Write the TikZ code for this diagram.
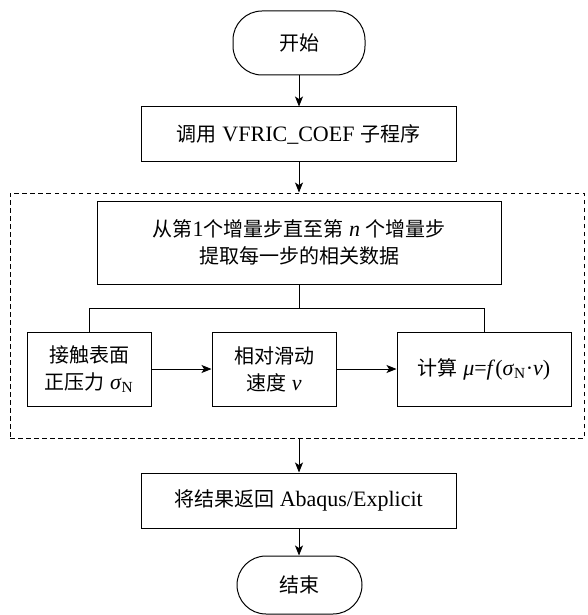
\documentclass[tikz,border=0pt]{standalone}
\usepackage{fontspec}
\setmainfont{Liberation Serif}[Scale=1.1]
\newfontfamily\cjk{Noto Sans CJK SC}
\usetikzlibrary{arrows.meta}
\newcommand{\cj}[1]{{\cjk #1}}
\begin{document}
\begin{tikzpicture}[x=1pt,y=-1pt,
  every node/.style={font=\fontsize{20}{27}\selectfont},
  box/.style={draw,line width=1pt,inner sep=0pt,align=center},
  term/.style={box,rounded corners=29pt},
  conn/.style={line width=0.9pt},
  arr/.style={conn,-{Stealth[length=10pt,width=8pt,inset=2.5pt]}},
  grpbox/.style={draw,line width=0.9pt,dash pattern=on 4.5pt off 3.5pt,inner sep=0pt}]
\useasboundingbox (0,0) rectangle (587,615);
\node[term,minimum width=132pt,minimum height=64pt] (start) at (299,43) {\cj{开始}};
\node[box,minimum width=315pt,minimum height=54pt] (call) at (298.5,134) {\cj{调用} VFRIC\_COEF \cj{子程序}};
\node[grpbox,minimum width=574pt,minimum height=245pt] (grp) at (297,315.5) {};
\node[box,minimum width=404pt,minimum height=83pt] (loop) at (299,242.5) {\cj{从第}1\cj{个增量步直至第} \textit{n} \cj{个增量步}\\\cj{提取每一步的相关数据}};
\node[box,minimum width=124pt,minimum height=74pt] (press) at (89,369) {\cj{接触表面}\\\cj{正压力} \textit{σ}\textsubscript{N}};
\node[box,minimum width=124pt,minimum height=74pt] (vel) at (274,369) {\cj{相对滑动}\\\cj{速度} \textit{ν}};
\node[box,minimum width=174pt,minimum height=74pt] (calc) at (484,369) {\cj{计算} \textit{μ}=\textit{f}(\textit{σ}\textsubscript{N}·\textit{ν})};
\node[box,minimum width=315pt,minimum height=55pt] (ret) at (298.5,500.5) {\cj{将结果返回} Abaqus/Explicit};
\node[term,minimum width=125pt,minimum height=58pt] (stop) at (299.5,585) {\cj{结束}};
\coordinate (split) at (299,308);
\draw[arr] (start.south) -- (start.south |- call.north);
\draw[arr] (call.south -| start.south) -- (start.south |- grp.north);
\draw[conn] (loop.south) -- (split);
\draw[conn] (split) -- (split -| press.north) -- (press.north);
\draw[conn] (split) -- (split -| calc.north) -- (calc.north);
\draw[arr] (press.east) -- (vel.west);
\draw[arr] (vel.east) -- (calc.west);
\draw[arr] (grp.south -| loop.south) -- (loop.south |- ret.north);
\draw[arr] (ret.south -| loop.south) -- (loop.south |- stop.north);
\end{tikzpicture}
\end{document}
